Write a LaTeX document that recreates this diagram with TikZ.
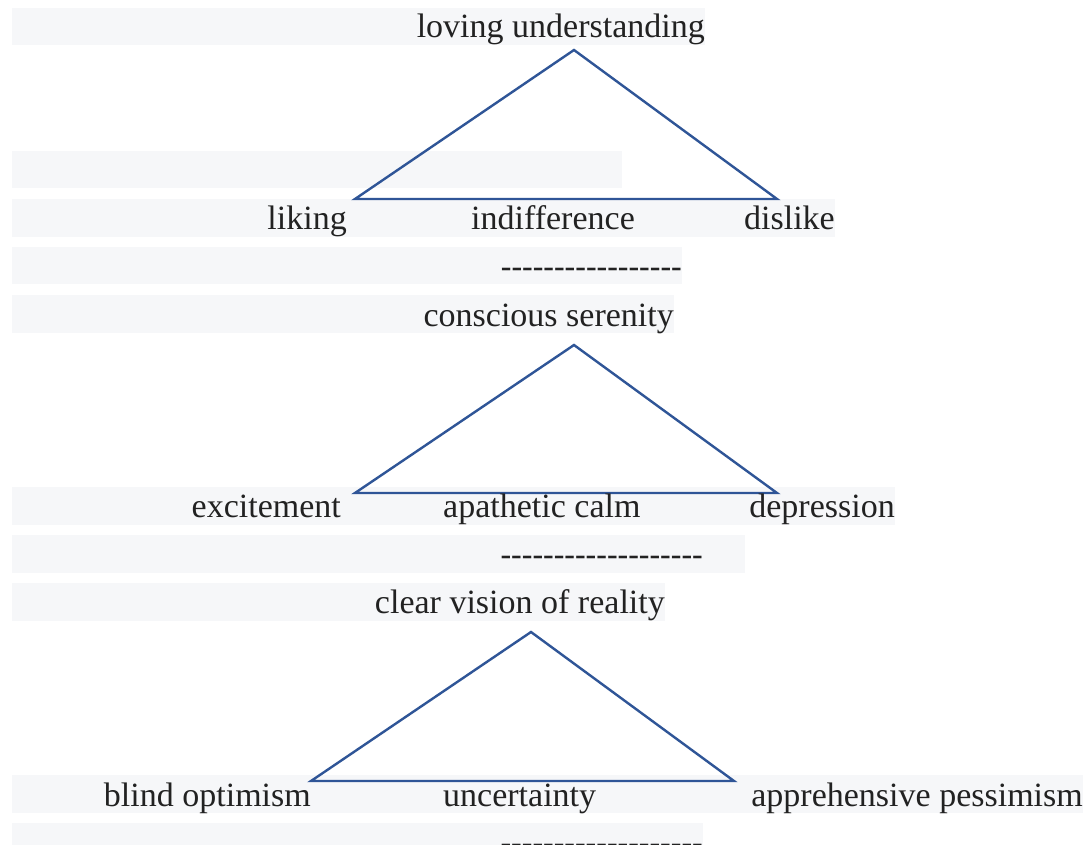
\documentclass[tikz,border=0pt]{standalone}
\usepackage{fontspec}
\setmainfont{Liberation Serif}
\newcommand\hy{\mbox{-}}
\newcommand\hyrow[1]{\foreach \k in {1,...,#1}{\hy}}
\begin{document}
\begin{tikzpicture}[x=1pt,y=-1pt,
  bar/.style={fill=barfill},
  lbl/.style={inner sep=0pt,text=txt,font=\fontsize{34}{40}\selectfont},
  tri/.style={draw=triblue,line width=2.4pt,line join=miter}]
\definecolor{barfill}{HTML}{F6F7F9}
\definecolor{triblue}{HTML}{2F5597}
\definecolor{txt}{HTML}{222222}
\useasboundingbox (0,0) rectangle (1086,845);
\clip (0,0) rectangle (1086,845);
\fill[white] (0,0) rectangle (1086,845);
% background bars
\fill[bar] (12,8) rectangle (705,45);
\fill[bar] (12,151) rectangle (622,188);
\fill[bar] (12,199) rectangle (835,237);
\fill[bar] (12,247) rectangle (682,284);
\fill[bar] (12,295) rectangle (674,333);
\fill[bar] (12,487) rectangle (895,525);
\fill[bar] (12,535) rectangle (745,573);
\fill[bar] (12,583) rectangle (665,621);
\fill[bar] (12,775) rectangle (1083,813);
\fill[bar] (12,823) rectangle (703,860);
% triangle 1
\coordinate (a1) at (574,50);
\coordinate (l1) at (355,199);
\coordinate (r1) at (777,199);
\draw[tri] (a1) -- (l1) -- (r1) -- cycle;
% triangle 2
\coordinate (a2) at (574,345);
\coordinate (l2) at (355,493);
\coordinate (r2) at (777,493);
\draw[tri] (a2) -- (l2) -- (r2) -- cycle;
% triangle 3
\coordinate (a3) at (531,632);
\coordinate (l3) at (311,781);
\coordinate (r3) at (734,781);
\draw[tri] (a3) -- (l3) -- (r3) -- cycle;
% texts
\node[lbl,anchor=base east] (t1) at (705,38) {loving understanding};
\node[lbl,anchor=base east] (liking) at (347,229) {liking};
\node[lbl,anchor=base west] (indiff) at (471,229) {indifference};
\node[lbl,anchor=base east] (dislike) at (835,229) {dislike};
\node[lbl,anchor=base east,xscale=0.94] (d1) at (682,277) {\hy\hy\hy\hy\hy\hy\hy\hy\hy\hy\hy\hy\hy\hy\hy\hy\hy};
\node[lbl,anchor=base east] (t2) at (674,326) {conscious serenity};
\node[lbl,anchor=base east] (excite) at (341,517) {excitement};
\node[lbl,anchor=base west] (calm) at (443,517) {apathetic calm};
\node[lbl,anchor=base east] (depr) at (895,517) {depression};
\node[lbl,anchor=base east,xscale=0.94] (d2) at (703,565) {\hy\hy\hy\hy\hy\hy\hy\hy\hy\hy\hy\hy\hy\hy\hy\hy\hy\hy\hy};
\node[lbl,anchor=base east] (t3) at (665,613) {clear vision of reality};
\node[lbl,anchor=base east] (blind) at (311,806) {blind optimism};
\node[lbl,anchor=base west] (unc) at (443,806) {uncertainty};
\node[lbl,anchor=base east] (appr) at (1083,806) {apprehensive pessimism};
\node[lbl,anchor=base east,xscale=0.94] (d3) at (703,853) {\hy\hy\hy\hy\hy\hy\hy\hy\hy\hy\hy\hy\hy\hy\hy\hy\hy\hy\hy};
\end{tikzpicture}
\end{document}
